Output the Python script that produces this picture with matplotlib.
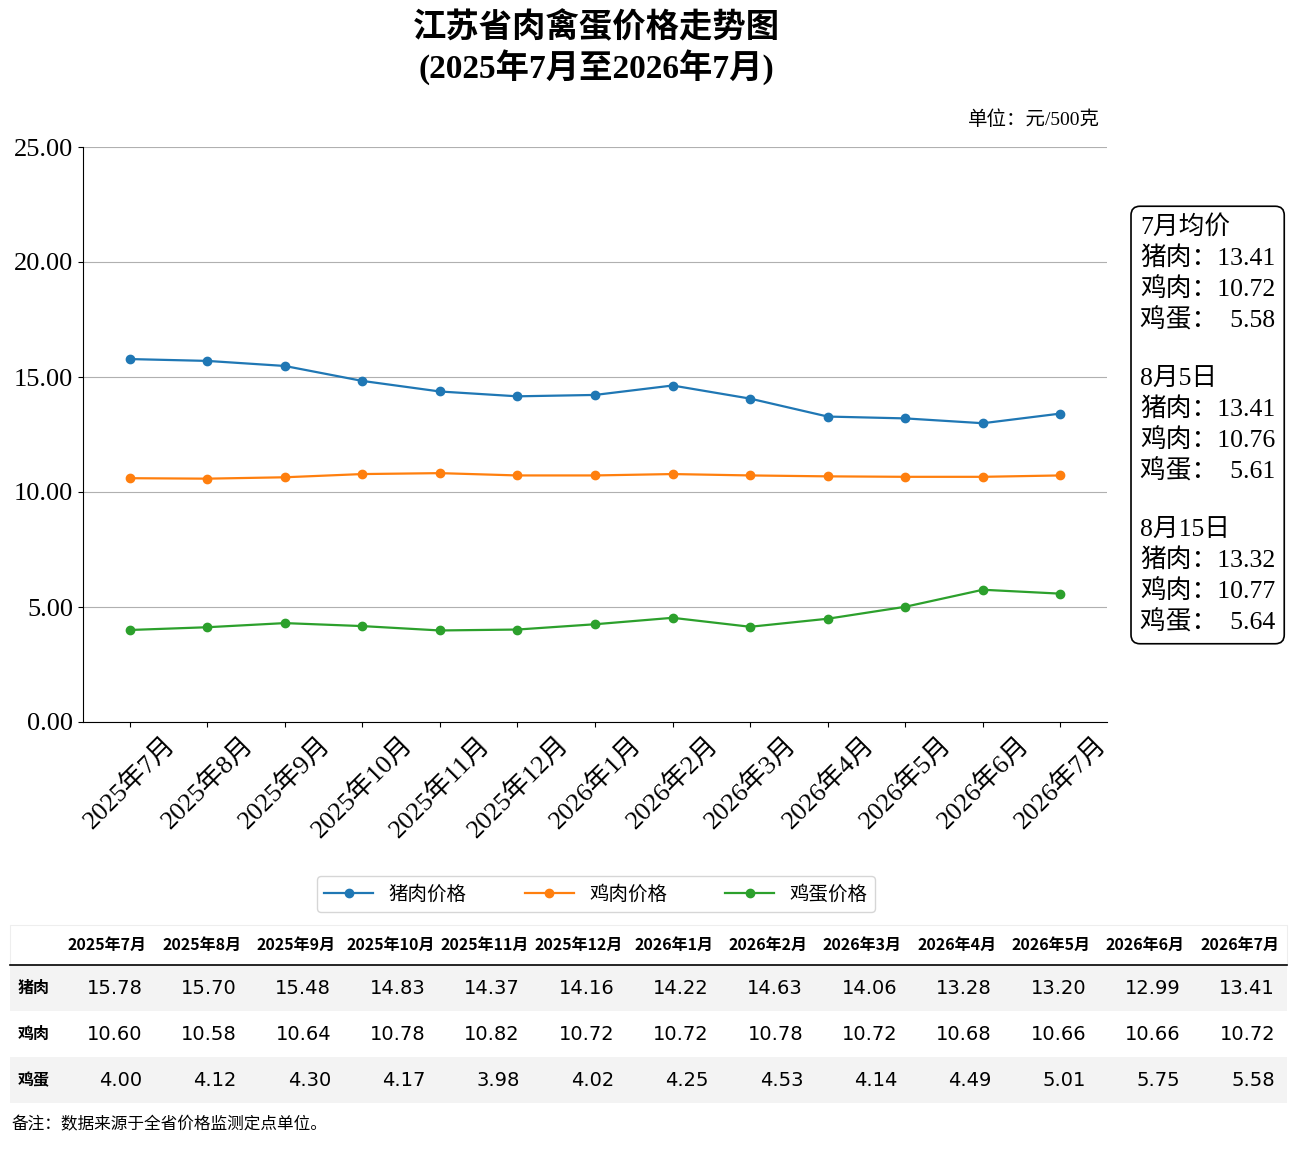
import matplotlib
matplotlib.use("Agg")
import matplotlib.pyplot as plt
from matplotlib.patches import Rectangle

months = ["2025年7月","2025年8月","2025年9月","2025年10月","2025年11月","2025年12月",
          "2026年1月","2026年2月","2026年3月","2026年4月","2026年5月","2026年6月","2026年7月"]
pork = [15.78,15.70,15.48,14.83,14.37,14.16,14.22,14.63,14.06,13.28,13.20,12.99,13.41]
chicken = [10.60,10.58,10.64,10.78,10.82,10.72,10.72,10.78,10.72,10.68,10.66,10.66,10.72]
egg = [4.00,4.12,4.30,4.17,3.98,4.02,4.25,4.53,4.14,4.49,5.01,5.75,5.58]
series_names = ["猪肉价格","鸡肉价格","鸡蛋价格"]
row_names = ["猪肉","鸡肉","鸡蛋"]
side_text = ("7月均价\n猪肉：13.41\n鸡肉：10.72\n鸡蛋：  5.58\n\n"
             "8月5日\n猪肉：13.41\n鸡肉：10.76\n鸡蛋：  5.61\n\n"
             "8月15日\n猪肉：13.32\n鸡肉：10.77\n鸡蛋：  5.64")

SERIF = ["Liberation Serif", "Noto Sans CJK SC"]
SANS = ["Noto Sans CJK SC", "DejaVu Sans"]
plt.rcParams['font.family'] = SERIF

fig = plt.figure(figsize=(12.95, 11.55), dpi=100)
W, H = 1295, 1155
ax = fig.add_axes([83/W, 1-722/H, (1107-83)/W, (722-147)/H])
x = list(range(len(months)))
colors = ["#1f77b4", "#ff7f0e", "#2ca02c"]
for vals, c, n in zip([pork, chicken, egg], colors, series_names):
    ax.plot(x, vals, marker="o", color=c, lw=1.6, ms=6, label=n)
ax.set_ylim(0, 25)
ax.set_xlim(-0.6, 12.6)
ax.set_yticks([0, 5, 10, 15, 20, 25])
ax.set_yticklabels([f"{v:.2f}" for v in [0, 5, 10, 15, 20, 25]], fontsize=19)
ax.set_xticks(x)
ax.set_xticklabels(months, rotation=45, fontsize=19, ha="center", va="top")
ax.grid(axis="y", color="#b0b0b0", lw=0.8)
ax.spines["top"].set_visible(False)
ax.spines["right"].set_visible(False)

fig.text(596/W, 1-28/H, "江苏省肉禽蛋价格走势图", ha="center", va="center", fontsize=24, fontweight="bold")
fig.text(596/W, 1-67/H, "(2025年7月至2026年7月)", ha="center", va="center", fontsize=24, fontweight="bold")
fig.text(1100/W, 1-120/H, "单位：元/500克", ha="right", va="center", fontsize=14)

fig.text(1140/W, 1-425/H, side_text, ha="left", va="center", fontsize=18.5, linespacing=1.38,
         bbox=dict(boxstyle="round,pad=0.35", fc="white", ec="black", lw=1.2))

fig.legend(loc="center", bbox_to_anchor=(596/W, 1-894/H), ncol=3,
           prop={"family": SANS, "size": 14}, handlelength=2.5, columnspacing=3)

tx0, tx1 = 10, 1287
hdr_top, hdr_bot = 925, 965
row_h = 46
label_w = 50
col_w = (tx1 - tx0 - label_w) / len(months)
fig.patches.append(Rectangle((tx0/W, 1-hdr_bot/H), (tx1-tx0)/W, (hdr_bot-hdr_top)/H,
                             transform=fig.transFigure, fc="white", ec="#eeeeee", lw=0.8))
for j, m in enumerate(months):
    cx = tx0 + label_w + col_w*(j+0.5)
    fig.text(cx/W, 1-945/H, m, ha="center", va="center", fontsize=11.5, fontweight="bold", family=SANS)
fig.add_artist(plt.Line2D([tx0/W, tx1/W], [1-hdr_bot/H]*2, color="black", lw=1.2))
for i, (name, vals) in enumerate(zip(row_names, [pork, chicken, egg])):
    top = hdr_bot + i*row_h
    if i != 1:
        fig.patches.append(Rectangle((tx0/W, 1-(top+row_h)/H), (tx1-tx0)/W, row_h/H,
                                     transform=fig.transFigure, fc="#f3f3f3", ec="none"))
    cy = top + row_h/2
    fig.text(18/W, 1-cy/H, name, ha="left", va="center", fontsize=11.5, fontweight="bold", family=SANS)
    for j, v in enumerate(vals):
        cx = tx0 + label_w + col_w*(j+1) - 12
        fig.text(cx/W, 1-cy/H, f"{v:.2f}", ha="right", va="center", fontsize=14, family=["DejaVu Sans"])

fig.text(12/W, 1-1125/H, "备注：数据来源于全省价格监测定点单位。", ha="left", va="center", fontsize=12, family=SANS)

fig.savefig("out.png", dpi=100)
